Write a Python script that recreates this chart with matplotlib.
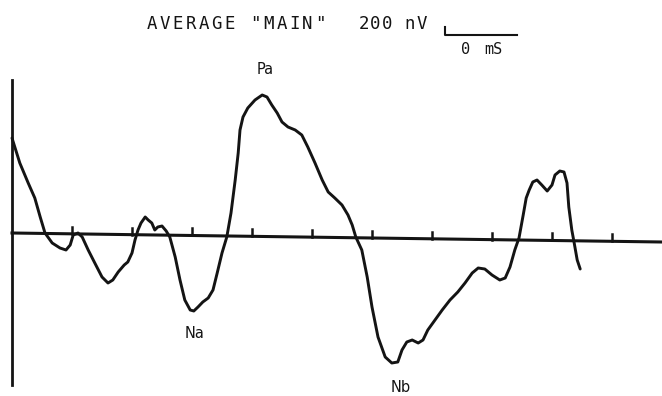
import matplotlib
matplotlib.use("Agg")
import matplotlib.pyplot as plt

# averaged evoked response (time in ms, amplitude in nV)
t_ms = [0, 1.3, 2.7, 3.8, 4.7, 5.5, 6.7, 8.0, 9.0, 9.7, 10.2, 11.0, 11.7, 12.7,
        13.8, 15.0, 16.0, 16.8, 17.7, 18.7, 19.3, 20.0, 20.5, 21.0, 21.5, 22.2,
        22.7, 23.3, 23.8, 24.3, 25.0, 25.7, 26.3, 27.2, 28.0, 28.8, 29.7, 30.3,
        31.0, 31.8, 32.7, 33.5, 34.2, 35.0, 35.8, 36.5, 37.2, 37.7, 38.0, 38.5,
        39.3, 40.5, 41.7, 42.5, 43.3, 44.2, 45.0, 46.0, 47.2, 48.3, 49.3, 50.5,
        51.7, 52.7, 53.8, 55.0, 56.0, 56.7, 57.3, 58.3, 59.2, 60.0, 61.0, 62.2,
        63.3, 64.3, 65.0, 65.8, 66.7, 67.7, 68.5, 69.3, 70.5, 71.7, 73.0, 74.3,
        75.5, 76.7, 77.7, 78.8, 80.0, 81.3, 82.2, 83.0, 83.8, 84.5, 85.2, 85.7,
        86.2, 86.8, 87.5, 88.3, 89.2, 90.0, 90.5, 91.3, 92.0, 92.5, 92.8, 93.3,
        93.7, 94.2, 94.7]
amp_nv = [2375, 1750, 1250, 875, 400, 0, -250, -375, -425, -300, -50, 0, -100,
          -425, -750, -1100, -1250, -1175, -975, -800, -725, -500, -175, 75,
          250, 400, 325, 250, 75, 150, 175, 50, -100, -600, -1175, -1675,
          -1925, -1950, -1850, -1725, -1625, -1425, -1000, -500, -100, 500,
          1325, 2000, 2575, 2900, 3125, 3325, 3450, 3400, 3200, 3000, 2775,
          2650, 2575, 2450, 2150, 1750, 1325, 1025, 875, 700, 450, 200, -100,
          -425, -1100, -1850, -2600, -3100, -3250, -3225, -2925, -2725, -2675,
          -2750, -2675, -2425, -2175, -1925, -1675, -1475, -1250, -1000, -875,
          -900, -1050, -1175, -1125, -850, -425, -125, 450, 875, 1075, 1275,
          1325, 1200, 1050, 1200, 1450, 1550, 1525, 1250, 650, 75, -250, -675,
          -900]

tick_ms = [10, 20, 30, 40, 50, 60, 70, 80, 90, 100]
peak_names = ["Na", "Pa", "Nb"]
peak_t = [30.5, 42.2, 64.7]
peak_v = [-2500, 4075, -3875]

SCALE_NV = 200
SCALE_MS = 12
NV_PER_PX = 25.0
MS_PER_PX = 1 / 6.0

fig = plt.figure(figsize=(6.62, 3.96), dpi=100)
ax = fig.add_axes([0, 0, 1, 1])
ax.set_xlim(-12 * MS_PER_PX, 650 * MS_PER_PX)
ax.set_ylim(-163 * NV_PER_PX, 233 * NV_PER_PX)
ax.axis("off")

ink = "#141414"

# slightly tilted baseline and its time marks
t_end = 650 * MS_PER_PX
drift = -9 * NV_PER_PX


def base(t):
    return drift * t / t_end


ax.plot([0, t_end], [base(0), base(t_end)], color=ink, lw=2.2)
for t in tick_ms:
    ax.plot([t, t], [base(t), base(t) + 7 * NV_PER_PX], color=ink, lw=1.8)

# vertical axis
ax.plot([0, 0], [153 * NV_PER_PX, -152 * NV_PER_PX], color=ink, lw=2.0)

# the waveform
ax.plot(t_ms, amp_nv, color=ink, lw=2.1, solid_joinstyle="round",
        solid_capstyle="round")

for name, t, v in zip(peak_names, peak_t, peak_v):
    ax.text(t, v, name, ha="center", va="center", fontsize=10.5, color=ink)


def spaced(t0, v, s, step, size):
    # plotter style lettering: fixed advance per character
    for i, ch in enumerate(s):
        ax.text(t0 + i * step * MS_PER_PX, v, ch, ha="center", va="center",
                fontsize=size, family="DejaVu Sans Mono", color=ink)


title_v = (233 - 24) * NV_PER_PX
spaced((151.5 - 12) * MS_PER_PX, title_v, 'AVERAGE "MAIN"', 13, 12.5)
spaced((364 - 12) * MS_PER_PX, title_v, "200 nV", 11.5, 12.5)

# calibration bar
bar_t = (445 - 12) * MS_PER_PX
bar_v = (233 - 35) * NV_PER_PX
ax.plot([bar_t, bar_t, bar_t + SCALE_MS], [bar_v + SCALE_NV, bar_v, bar_v],
        color=ink, lw=1.5)
lab_v = (233 - 49) * NV_PER_PX
ax.text((466 - 12) * MS_PER_PX, lab_v, "0", ha="center", va="center",
        fontsize=11, family="DejaVu Sans Mono", color=ink)
ax.text((493 - 12) * MS_PER_PX, lab_v, "mS", ha="center", va="center",
        fontsize=11, family="DejaVu Sans Mono", color=ink)

fig.savefig("out.png", dpi=100, facecolor="white")
